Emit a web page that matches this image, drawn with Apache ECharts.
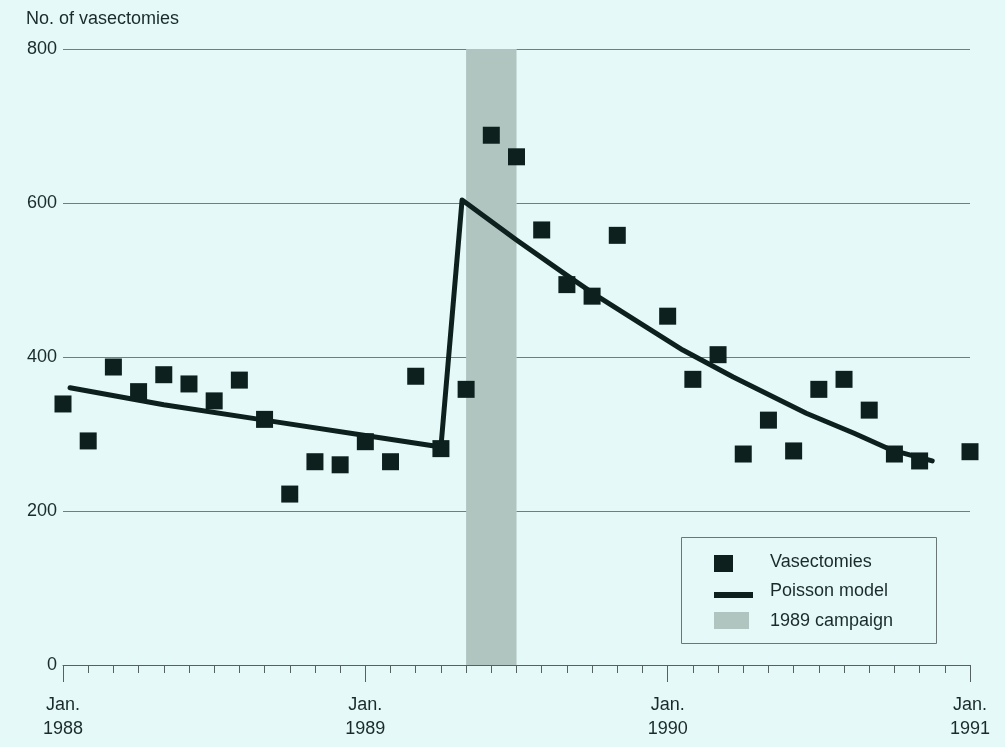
<!DOCTYPE html>
<html><head><meta charset="utf-8">
<script src="https://cdn.jsdelivr.net/npm/echarts@6/dist/echarts.min.js"></script>
<style>html,body{margin:0;padding:0;background:#e4f9f8}#c{width:1005px;height:747px}</style>
</head><body><div id="c"></div>
<script>
// Months since Jan 1988 (0 = Jan 1988, 36 = Jan 1991)
const months = [0,1,2,3,4,5,6,7,8,9,10,11,12,13,14,15,16,17,18,19,20,21,22,23,24,25,26,27,28,29,30,31,32,33,34,35,36];
const vasectomies = [339,291,387,355,377,365,343,370,319,222,264,260,290,264,375,281,358,688,660,565,494,479,558,null,453,371,403,274,318,278,358,371,331,274,265,null,277];
const modelMonths = [0.28,4,8,12,15,15.84,18,20,21.3,22.9,24.6,26.6,29.5,31.4,32.9,34.5];
const modelValues = [360,338,318,298,283,604,552,506,477,444,409,374,327,301,279,265];
const campaign = [16,18];
const yearLabels = {0:'Jan.\n1988',12:'Jan.\n1989',24:'Jan.\n1990',36:'Jan.\n1991'};
const yTicks = [0,200,400,600,800];

const ink = '#0d201e';
const txt = '#1b2b2b';
const font = 'Liberation Sans';
const chart = echarts.init(document.getElementById('c'));
chart.setOption({
  backgroundColor:'#e4f9f8',
  animation:false,
  title:{text:'No. of vasectomies',left:21,top:5,textStyle:{fontFamily:font,fontSize:18,fontWeight:'normal',color:txt}},
  grid:{left:63,right:35,top:49,bottom:82},
  xAxis:{type:'value',min:0,max:36,interval:12,
    axisLine:{lineStyle:{color:'#56625f',width:1}},
    axisTick:{show:true,length:17,lineStyle:{color:'#56625f'}},
    minorTick:{show:true,splitNumber:12,length:8,lineStyle:{color:'#56625f'}},
    splitLine:{show:false},
    axisLabel:{margin:28,fontFamily:font,fontSize:18,color:txt,lineHeight:24,
      formatter:v=>yearLabels[v]||''}},
  yAxis:{type:'value',min:yTicks[0],max:yTicks[yTicks.length-1],interval:200,
    axisLine:{show:false},axisTick:{show:false},
    splitLine:{lineStyle:{color:'#6f7f7c',width:1}},
    axisLabel:{margin:6,fontFamily:font,fontSize:18,color:txt}},
  series:[
    {name:'1989 campaign',type:'line',data:[],
      markArea:{silent:true,itemStyle:{color:'#b0c4c0',opacity:1},data:[[{xAxis:campaign[0]},{xAxis:campaign[1]}]]}},
    {name:'Poisson model',type:'line',data:modelMonths.map((m,i)=>[m,modelValues[i]]),
      symbol:'none',lineStyle:{color:ink,width:5,cap:'round',join:'round'},z:3},
    {name:'Vasectomies',type:'scatter',data:months.map((m,i)=>[m,vasectomies[i]]).filter(d=>d[1]!=null),
      symbol:'rect',symbolSize:17,itemStyle:{color:ink,opacity:1},z:4}
  ],
  graphic:[
    {type:'rect',left:681,top:537,shape:{width:255,height:106},style:{fill:'#e4f9f8',stroke:'#6a7774',lineWidth:1}},
    {type:'rect',left:714,top:555,shape:{width:19,height:17},style:{fill:ink}},
    {type:'rect',left:714,top:592,shape:{width:39,height:6},style:{fill:ink}},
    {type:'rect',left:714,top:612,shape:{width:35,height:17},style:{fill:'#b0c4c0'}},
    {type:'text',left:770,top:553,style:{text:'Vasectomies',font:'18px "Liberation Sans"',fill:txt}},
    {type:'text',left:770,top:582,style:{text:'Poisson model',font:'18px "Liberation Sans"',fill:txt}},
    {type:'text',left:770,top:612,style:{text:'1989 campaign',font:'18px "Liberation Sans"',fill:txt}}
  ]
});
</script></body></html>
